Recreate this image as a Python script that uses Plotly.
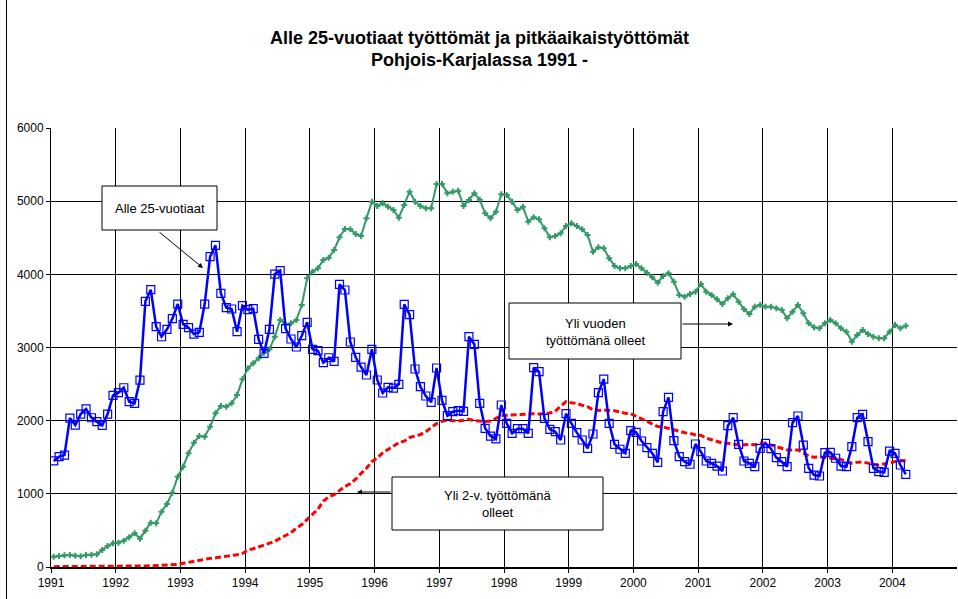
import plotly.graph_objects as go

# ---- data (monthly, Jan 1991 .. Mar 2004) ----
start_year = 1991
alle25 = [1450,1508,1530,2036,1940,2090,2160,2040,1986,1936,2090,2346,
          2382,2450,2260,2237,2555,3631,3790,3284,3147,3248,3394,3594,
          3317,3271,3184,3207,3594,4241,4396,3740,3544,3526,3216,3572,
          3517,3530,3111,2920,3248,4004,4050,3257,3116,3007,3161,3344,
          2975,2956,2792,2860,2810,3863,3786,3075,2866,2733,2624,2975,
          2556,2378,2456,2446,2497,3590,3448,2706,2464,2337,2251,2720,
          2278,2068,2123,2136,2128,3148,3044,2237,1896,1790,1750,2214,
          1964,1827,1890,1890,1827,2724,2669,2032,1882,1849,1736,2095,
          1964,1836,1736,1622,1818,2382,2569,1964,1677,1609,1554,1863,
          1841,1722,1631,1554,1431,2123,2319,1726,1508,1439,1404,1681,
          1576,1449,1417,1380,1312,1931,2041,1677,1449,1417,1371,1622,
          1690,1617,1494,1439,1371,1972,2064,1667,1349,1257,1244,1562,
          1567,1486,1380,1371,1644,2041,2087,1713,1349,1303,1294,1585,
          1554,1394,1267]
yli_vuoden = [141,150,159,164,155,146,164,168,173,232,287,323,
              333,360,405,460,387,497,606,597,756,861,1016,1235,
              1371,1553,1699,1790,1781,1918,2100,2200,2191,2237,2351,2565,
              2715,2784,2852,2929,2975,3148,3376,3317,3330,3376,3581,3945,
              4036,4082,4196,4227,4332,4506,4619,4615,4551,4524,4766,4993,
              4934,4970,4925,4879,4774,4947,5130,4993,4934,4902,4902,5234,
              5234,5107,5130,5143,4934,5016,5107,5020,4834,4766,4856,5094,
              5084,4993,4879,4925,4720,4779,4752,4629,4506,4524,4561,4660,
              4697,4660,4615,4537,4309,4369,4356,4219,4114,4082,4082,4114,
              4141,4082,4022,3959,3886,3977,4014,3899,3717,3694,3731,3763,
              3868,3763,3717,3658,3594,3672,3727,3626,3522,3458,3558,3581,
              3558,3558,3536,3512,3399,3489,3581,3467,3330,3276,3262,3330,
              3376,3330,3262,3216,3079,3171,3239,3184,3148,3125,3125,3216,
              3307,3262,3298]
yli_2v = [5,5,5,5,5,5,5,5,5,5,8,10,
          10,10,12,12,14,15,16,18,20,22,26,35,
          50,64,80,96,110,118,125,135,141,155,168,185,
          232,250,275,300,330,350,392,430,470,530,580,650,
          720,790,900,960,990,1050,1100,1140,1200,1280,1350,1440,
          1490,1560,1610,1654,1700,1720,1770,1790,1810,1850,1900,1960,
          1990,2010,2000,1995,2005,2020,2000,1990,1990,1995,2030,2070,
          2075,2080,2085,2090,2100,2095,2090,2100,2105,2130,2190,2260,
          2245,2235,2210,2190,2150,2140,2145,2145,2135,2120,2100,2095,
          2060,2030,2000,1965,1920,1915,1895,1880,1850,1835,1827,1805,
          1800,1760,1740,1713,1695,1690,1680,1667,1670,1676,1670,1690,
          1690,1670,1640,1622,1600,1600,1600,1560,1515,1500,1505,1495,
          1485,1485,1470,1440,1420,1430,1435,1420,1400,1394,1410,1430,
          1445,1455,1453]
years = list(range(1991, 2005))
year_labels = [str(y) for y in years]

n = len(alle25)
xs = [start_year + (i + 0.5) / 12 for i in range(n)]

FONT = "Liberation Sans, Arial, sans-serif"
NARROW = "Liberation Sans Narrow, Arial Narrow, Liberation Sans, Arial, sans-serif"

fig = go.Figure()
fig.add_trace(go.Scatter(x=xs, y=yli_vuoden, mode="lines+markers",
                         line=dict(color="#339966", width=2),
                         marker=dict(symbol="cross", size=5, color="#339966"),
                         name="Yli vuoden työttömänä olleet"))
fig.add_trace(go.Scatter(x=xs, y=yli_2v, mode="lines",
                         line=dict(color="#FF0000", width=3, dash="6px,3px"),
                         name="Yli 2-v. työttömänä olleet"))
fig.add_trace(go.Scatter(x=xs, y=alle25, mode="lines+markers",
                         line=dict(color="#0000FF", width=2.5),
                         marker=dict(symbol="square-open", size=8, color="#0000FF",
                                     line=dict(width=1.2, color="#0000FF")),
                         name="Alle 25-vuotiaat"))

L, R, T, B = 51, 957, 128, 567
W, H = 958, 599

def px(x):
    return (x - L) / (R - L)

def py(y):
    return (B - y) / (B - T)

shapes = []
annotations = []

def box(x0, y0, x1, y1, lines, ty):
    shapes.append(dict(type="rect", xref="paper", yref="paper",
                       x0=px(x0), x1=px(x1), y0=py(y1), y1=py(y0),
                       line=dict(color="#000000", width=1), fillcolor="white", layer="above"))
    for txt, yy in zip(lines, ty):
        annotations.append(dict(xref="paper", yref="paper", x=px((x0 + x1) / 2), y=py(yy),
                                text=txt, showarrow=False, xanchor="center", yanchor="middle",
                                font=dict(family=FONT, size=13, color="#000000")))

def arrow(xt, yt, xh, yh):
    annotations.append(dict(xref="paper", yref="paper", x=px(xh), y=py(yh),
                            axref="pixel", ayref="pixel", ax=xt - xh, ay=yt - yh,
                            text="", showarrow=True, arrowhead=2, arrowsize=1,
                            arrowwidth=1, arrowcolor="#000000", standoff=0, startstandoff=0))

arrow(158, 231, 203, 268)
box(102, 186, 217, 230, ["Alle 25-vuotiaat"], [208])
arrow(681, 324, 733, 324)
box(509, 303, 681, 359, ["Yli vuoden", "työttömänä olleet"], [323, 340])
arrow(392, 492, 357, 492)
box(392, 477, 603, 530, ["Yli 2-v. työttömänä", "olleet"], [495, 512])

# outer chart border (left edge visible)
shapes.append(dict(type="line", xref="paper", yref="paper",
                   x0=px(6.5), x1=px(6.5), y0=py(0), y1=py(599),
                   line=dict(color="#000000", width=1)))

# title
annotations.append(dict(xref="paper", yref="paper", x=px(479), y=py(38),
                        text="<b>Alle 25-vuotiaat työttömät ja pitkäaikaistyöttömät</b>",
                        showarrow=False, xanchor="center", yanchor="middle",
                        font=dict(family=FONT, size=18, color="#000000")))
annotations.append(dict(xref="paper", yref="paper", x=px(479), y=py(60),
                        text="<b>Pohjois-Karjalassa 1991 -</b>",
                        showarrow=False, xanchor="center", yanchor="middle",
                        font=dict(family=FONT, size=18, color="#000000")))

fig.update_layout(
    width=W, height=H, autosize=False,
    margin=dict(l=L, r=W - R, t=T, b=H - B, pad=0),
    paper_bgcolor="white", plot_bgcolor="white",
    showlegend=False,
    shapes=shapes, annotations=annotations,
    font=dict(family=FONT, size=11, color="#000000"),
)
fig.update_xaxes(range=[1991, 2005], tickmode="array", tickvals=years, ticktext=year_labels,
                 showgrid=True, gridcolor="#000000", gridwidth=1,
                 showline=True, linecolor="#000000", linewidth=1.5,
                 ticks="outside", ticklen=4, tickcolor="#000000",
                 tickfont=dict(family=NARROW, size=12), zeroline=False)
fig.update_yaxes(range=[0, 6000], dtick=1000, tick0=0,
                 showgrid=True, gridcolor="#000000", gridwidth=1,
                 showline=True, linecolor="#000000", linewidth=1,
                 ticks="outside", ticklen=4, tickcolor="#000000",
                 tickfont=dict(family=NARROW, size=12), zeroline=False)

fig.write_html("out.html", config={"displayModeBar": False},
               post_script="document.body.style.margin='0';document.body.style.overflow='hidden';")
